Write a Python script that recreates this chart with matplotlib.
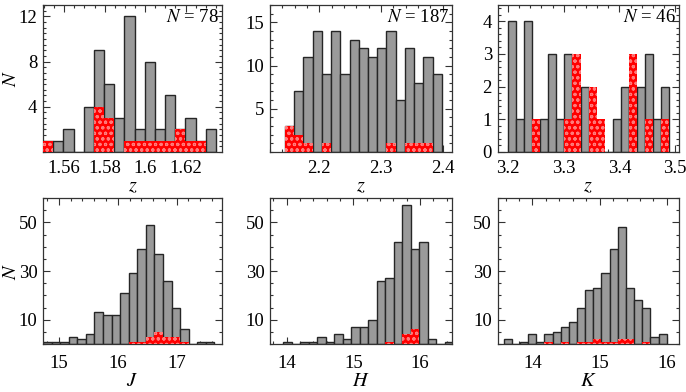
import numpy as np
import matplotlib
matplotlib.use("Agg")
import matplotlib.pyplot as plt
from matplotlib.ticker import MultipleLocator, FixedLocator

plt.rcParams['font.family'] = ['Liberation Serif', 'DejaVu Serif']
plt.rcParams['mathtext.fontset'] = 'stix'
plt.rcParams['hatch.linewidth'] = 0.8

# ---------------- data ----------------
# panel 1: z ~ 1.6
z1_start, z1_width = 1.5495, 0.00503
z1_all = [1, 1, 2, 0, 4, 9, 6, 3, 12, 2, 8, 2, 5, 2, 3, 1, 2]
z1_red = [1, 0, 0, 0, 0, 4, 3, 0, 1, 1, 1, 1, 1, 2, 1, 1, 0]
z1_N = 78

# panel 2: z ~ 2.3
z2_start, z2_width = 2.1442, 0.01496
z2_all = [3, 7, 11, 14, 9, 14, 9, 13, 12, 11, 12, 14, 6, 12, 8, 11, 9]
z2_red = [3, 2, 1, 0, 1, 0, 0, 0, 0, 0, 0, 1, 0, 1, 1, 1, 0]
z2_N = 187

# panel 3: z ~ 3.35
z3_start, z3_width = 3.1995, 0.01452
z3_all = [4, 1, 4, 0, 1, 3, 1, 3, 0, 2, 0, 0, 0, 1, 2, 2, 2, 3, 1, 2]
z3_red = [0, 0, 0, 1, 0, 0, 0, 1, 3, 0, 2, 1, 0, 0, 0, 3, 0, 1, 0, 1]
z3_N = 46

# panel 4: J
J_start, J_width = 14.73, 0.1455
J_all = [1, 1, 1, 3, 2, 4, 13, 12, 12, 21, 29, 39, 49, 37, 26, 15, 6, 0, 1, 1]
J_red = [0, 0, 0, 0, 0, 0, 0, 0, 0, 0, 1, 1, 3, 5, 3, 3, 1, 0, 0, 0]

# panel 5: H
H_start, H_width = 13.95, 0.1275
H_all = [1, 0, 1, 1, 3, 1, 4, 2, 7, 7, 10, 26, 27, 42, 57, 39, 42, 2, 0, 1]
H_red = [0, 0, 0, 0, 0, 0, 0, 0, 0, 0, 0, 0, 1, 0, 4, 6, 0, 0, 0, 0]

# panel 6: K
K_start, K_width = 13.57, 0.1214
K_all = [2, 0, 1, 4, 1, 4, 5, 7, 9, 15, 22, 23, 29, 39, 48, 23, 18, 15, 3, 4]
K_red = [0, 0, 0, 0, 0, 1, 0, 1, 0, 1, 1, 2, 1, 1, 2, 2, 0, 1, 0, 0]

xlabels = ['z', 'z', 'z', 'J', 'H', 'K']

# ---------------- figure ----------------
W, H = 686, 392
fig = plt.figure(figsize=(W / 100, H / 100), dpi=100)

def px_axes(l, t, r, b):
    return fig.add_axes([l / W, 1 - b / H, (r - l) / W, (b - t) / H])

cols = [(43, 222), (270, 452), (497.5, 679)]
rows = [(5, 152), (198, 344)]

panels = [
    dict(start=z1_start, width=z1_width, all=z1_all, red=z1_red, N=z1_N,
         xlim=(1.5495, 1.638), ylim=(0, 13), xmin=0.005,
         yticks=[4, 8, 12], ymin=0.5, xticks=[1.56, 1.58, 1.60, 1.62],
         xtl=['1.56', '1.58', '1.6', '1.62']),
    dict(start=z2_start, width=z2_width, all=z2_all, red=z2_red, N=z2_N,
         xlim=(2.12, 2.415), ylim=(0, 17), xmin=0.02,
         yticks=[5, 10, 15], ymin=1, xticks=[2.2, 2.3, 2.4],
         xtl=['2.2', '2.3', '2.4']),
    dict(start=z3_start, width=z3_width, all=z3_all, red=z3_red, N=z3_N,
         xlim=(3.181, 3.507), ylim=(0, 4.5), xmin=0.02,
         yticks=[0, 1, 2, 3, 4], ymin=0.2, xticks=[3.2, 3.3, 3.4, 3.5],
         xtl=['3.2', '3.3', '3.4', '3.5']),
    dict(start=J_start, width=J_width, all=J_all, red=J_red, N=None,
         xlim=(14.73, 17.77), ylim=(0, 60), xmin=0.2,
         yticks=[10, 30, 50], ymin=5, xticks=[15, 16, 17],
         xtl=['15', '16', '17']),
    dict(start=H_start, width=H_width, all=H_all, red=H_red, N=None,
         xlim=(13.75, 16.48), ylim=(0, 60), xmin=0.2,
         yticks=[10, 30, 50], ymin=5, xticks=[14, 15, 16],
         xtl=['14', '15', '16']),
    dict(start=K_start, width=K_width, all=K_all, red=K_red, N=None,
         xlim=(13.48, 16.18), ylim=(0, 60), xmin=0.2,
         yticks=[10, 30, 50], ymin=5, xticks=[14, 15, 16],
         xtl=['14', '15', '16']),
]

fs = 13.5
for i, p in enumerate(panels):
    r, c = divmod(i, 3)
    ax = px_axes(cols[c][0], rows[r][0], cols[c][1], rows[r][1])
    n = len(p['all'])
    lefts = p['start'] + p['width'] * np.arange(n)
    ax.bar(lefts, p['all'], width=p['width'], align='edge',
           color='#9a9a9a', edgecolor='#262626', linewidth=1.0, zorder=2)
    ax.bar(lefts, p['red'], width=p['width'], align='edge',
           color='#ff0000', edgecolor='#ff7a7a', linewidth=0, hatch='ooo',
           zorder=3)
    ax.set_xlim(*p['xlim'])
    ax.set_ylim(*p['ylim'])
    ax.xaxis.set_major_locator(FixedLocator(p['xticks']))
    ax.set_xticklabels(p['xtl'])
    ax.xaxis.set_minor_locator(MultipleLocator(p['xmin']))
    ax.yaxis.set_major_locator(FixedLocator(p['yticks']))
    ax.yaxis.set_minor_locator(MultipleLocator(p['ymin']))
    ax.tick_params(which='both', direction='in', top=True, right=True,
                   labelsize=fs, color='#333333', width=0.8)
    ax.tick_params(which='major', length=5)
    ax.tick_params(axis='x', which='major', pad=6 if r == 0 else 8)
    ax.tick_params(axis='y', which='major', pad=4)
    ax.tick_params(which='minor', length=2.5)
    for s in ax.spines.values():
        s.set_linewidth(0.9)
        s.set_color('#333333')
    ax.set_xlabel('$' + xlabels[i] + '$', fontsize=fs + 1, labelpad=0)
    if c == 0:
        ax.set_ylabel('$N$', fontsize=fs + 1)
        ax.yaxis.set_label_coords(-0.125, 0.5)
    if p['N'] is not None:
        ax.text(0.985, 0.975, r'$N$ = %d' % p['N'], transform=ax.transAxes,
                ha='right', va='top', fontsize=fs, zorder=5)

fig.savefig('out.png', dpi=100)
